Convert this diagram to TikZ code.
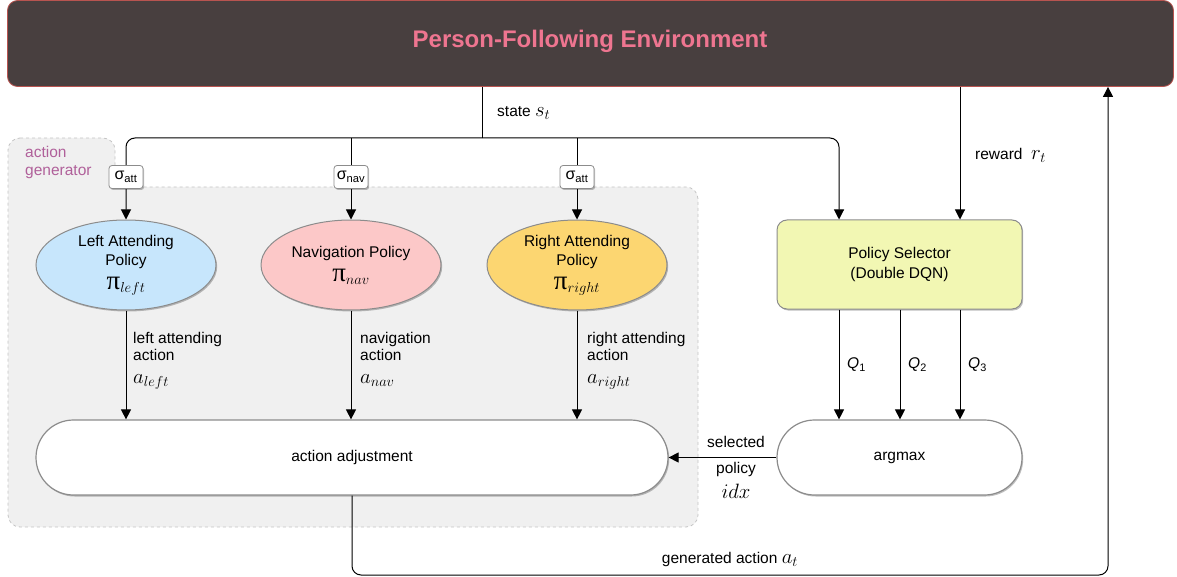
\documentclass[tikz,border=0pt]{standalone}
\usepackage{fontspec}
\setmainfont{Liberation Sans}
\newfontfamily\serifpi{Liberation Serif}
\usetikzlibrary{shapes.geometric,shapes.misc,arrows.meta,shadows,calc}

\definecolor{envfill}{HTML}{483F3F}
\definecolor{envedge}{HTML}{B85450}
\definecolor{envtext}{HTML}{EE7590}
\definecolor{leftfill}{HTML}{C7E6FC}
\definecolor{navfill}{HTML}{FCC8C8}
\definecolor{rightfill}{HTML}{FCD671}
\definecolor{selfill}{HTML}{F2F7B3}
\definecolor{genfill}{HTML}{F0F0F0}
\definecolor{genedge}{HTML}{C4C4C4}
\definecolor{gentext}{HTML}{B0609A}
\definecolor{nodeedge}{HTML}{8C8C8C}

\newcommand{\txt}{\fontsize{15.5}{17}\selectfont}
\newcommand{\mth}[1]{{\fontsize{22}{22}\selectfont$#1$}}
\newcommand{\pis}[1]{{\fontsize{27}{27}\selectfont\serifpi π}{\fontsize{22}{22}\selectfont$_{#1}$}}

\tikzset{
  arr/.style={draw=black, line width=1pt, -{Triangle[length=10pt,width=10pt]}},
  plain/.style={draw=black, line width=1pt},
  shade/.style={drop shadow={shadow xshift=1.2pt,shadow yshift=-1.5pt,fill=black,opacity=0.25}},
  policy/.style={ellipse, draw=nodeedge, line width=1pt, minimum width=180pt, minimum height=90pt,
    inner sep=0pt, align=center, font=\txt, shade},
  stadium/.style={rounded rectangle, draw=nodeedge, line width=1.2pt, fill=white, inner sep=0pt,
    font=\txt, shade},
  gate/.style={rectangle, rounded corners=3pt, draw=nodeedge, line width=0.8pt, fill=white,
    minimum width=34pt, minimum height=23pt, inner sep=0pt, font=\fontsize{16}{16}\selectfont, shade},
  lbl/.style={font=\txt, inner sep=0pt, align=left},
}

\begin{document}
\begin{tikzpicture}[x=1pt,y=-1pt]
\useasboundingbox (0,0) rectangle (1177,577);

% action generator group
\draw[fill=genfill, draw=genedge, dashed, line width=0.8pt, rounded corners=12pt]
  (8,138) -- (115,138) -- (115,187) -- (698,187) -- (698,527) -- (8,527) -- cycle;
\node[lbl, text=gentext, anchor=north west] (glabel) at (25,146) {action\\[1pt]generator};

% environment
\node[rectangle, rounded corners=10pt, fill=envfill, draw=envedge, line width=0.8pt,
  minimum width=1166pt, minimum height=86pt, inner sep=0pt] (env) at (590.5,43.5) {};
\node[font=\fontsize{24}{24}\selectfont\bfseries, text=envtext] (title) at (590,41) {Person-Following Environment};

% policies
\node[policy, fill=leftfill] (lp) at (126,265) {Left Attending\\[2pt]Policy\\[7pt]\pis{left}};
\node[policy, fill=navfill] (np) at (351,265) {Navigation Policy\\[7pt]\pis{nav}};
\node[policy, fill=rightfill] (rp) at (577,265) {Right Attending\\[2pt]Policy\\[7pt]\pis{right}};

% action adjustment and argmax
\node[stadium, minimum width=632pt, minimum height=75pt] (aa) at (352,457.5) {action adjustment};
\node[stadium, minimum width=245pt, minimum height=75pt] (am) at (899.5,457.5) {argmax};

% policy selector
\node[rectangle, rounded corners=10pt, draw=nodeedge, line width=1pt, fill=selfill,
  minimum width=245pt, minimum height=89pt, inner sep=0pt, align=center, font=\txt, shade]
  (ps) at (899.5,264.5) {Policy Selector\\[3pt](Double DQN)};

% junction coordinates
\coordinate (sj) at (482,138);
\coordinate (c1) at (839,0);
\coordinate (c2) at (900,0);
\coordinate (c3) at (960,0);
\coordinate (ga) at (1108,575);

% state distribution
\draw[plain] (env.south -| sj) -- (sj);
\draw[arr, rounded corners=9pt] (sj) -| (lp.north);
\draw[arr, rounded corners=9pt] (sj) -| (ps.north -| c1);
\draw[arr] (sj -| np.north) -- (np.north);
\draw[arr] (sj -| rp.north) -- (rp.north);
\node[lbl, anchor=west] (slabel) at (497,113) {state \mth{s_t}};

% gates
\node[gate] (g1) at (126,177) {σ\textsubscript{att}};
\node[gate] (g2) at (351,177) {σ\textsubscript{nav}};
\node[gate] (g3) at (577,177) {σ\textsubscript{att}};

% reward
\draw[arr] (env.south -| c3) -- (ps.north -| c3);
\node[lbl, anchor=west] (rlabel) at (975,155) {reward \ \mth{r_t}};

% actions
\draw[arr] (lp.south) -- (aa.north -| lp.south);
\draw[arr] (np.south) -- (aa.north -| np.south);
\draw[arr] (rp.south) -- (aa.north -| rp.south);
\node[lbl, anchor=north west] (al) at (133,332) {left attending\\action\\[6pt]\mth{a_{left}}};
\node[lbl, anchor=north west] (an) at (360,332) {navigation\\action\\[6pt]\mth{a_{nav}}};
\node[lbl, anchor=north west] (ar) at (587,332) {right attending\\action\\[6pt]\mth{a_{right}}};

% Q values
\draw[arr] (ps.south -| c1) -- (am.north -| c1);
\draw[arr] (ps.south -| c2) -- (am.north -| c2);
\draw[arr] (ps.south -| c3) -- (am.north -| c3);
\node[lbl, anchor=west] (q1) at (847,365) {\textit{Q}\textsubscript{1}};
\node[lbl, anchor=west] (q2) at (908,365) {\textit{Q}\textsubscript{2}};
\node[lbl, anchor=west] (q3) at (968,365) {\textit{Q}\textsubscript{3}};

% selected policy
\draw[arr] (am.west) -- (aa.east);
\node[lbl] (sel) at (736,442) {selected};
\node[lbl] (pol) at (736,469) {policy};
\node[lbl] (idx) at (736,491) {\mth{idx}};

% generated action back to the environment
\draw[arr, rounded corners=9pt] (aa.south) |- (ga) -- (env.south -| ga);
\node[lbl] (glbl) at (730,559) {generated action \mth{a_t}};
\end{tikzpicture}
\end{document}
